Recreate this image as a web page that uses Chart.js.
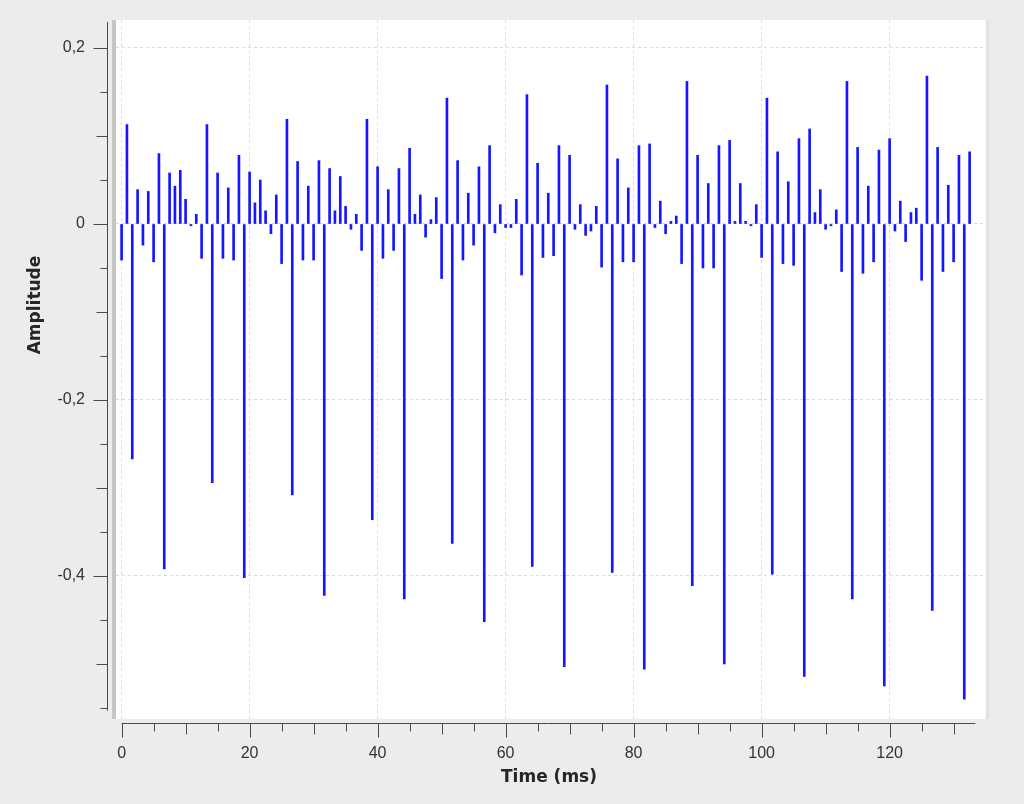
<!DOCTYPE html>
<html>
<head>
<meta charset="utf-8">
<script src="https://cdn.jsdelivr.net/npm/chart.js@4/dist/chart.umd.min.js"></script>
<style>
  html, body { margin: 0; padding: 0; background: #ececec; }
  #wrap { width: 1024px; height: 804px; }
</style>
</head>
<body>
<div id="wrap"><canvas id="chart" width="1024" height="804"></canvas></div>
<script>
// samples, one every 1/1200 s
const sampleRateHz = 1200;
const amplitude = [
  -0.041, 0.113, -0.267, 0.039, -0.024, 0.037, -0.043, 0.080, -0.392, 0.058,
  0.043, 0.061, 0.028, -0.002, 0.011, -0.039, 0.113, -0.294, 0.058, -0.039,
  0.041, -0.041, 0.078, -0.402, 0.059, 0.024, 0.050, 0.015, -0.011, 0.033,
  -0.045, 0.119, -0.308, 0.071, -0.041, 0.043, -0.041, 0.072, -0.422, 0.063,
  0.015, 0.054, 0.020, -0.006, 0.011, -0.030, 0.119, -0.336, 0.065, -0.039,
  0.039, -0.030, 0.063, -0.426, 0.086, 0.011, 0.033, -0.015, 0.005, 0.030,
  -0.062, 0.143, -0.363, 0.072, -0.041, 0.035, -0.024, 0.065, -0.452, 0.089,
  -0.010, 0.022, -0.004, -0.004, 0.028, -0.058, 0.147, -0.389, 0.069, -0.038,
  0.035, -0.036, 0.089, -0.503, 0.078, -0.006, 0.022, -0.013, -0.008, 0.020,
  -0.049, 0.158, -0.396, 0.074, -0.043, 0.041, -0.043, 0.089, -0.506, 0.091,
  -0.004, 0.026, -0.011, 0.003, 0.009, -0.045, 0.162, -0.411, 0.078, -0.050,
  0.046, -0.050, 0.089, -0.500, 0.095, 0.003, 0.046, 0.003, -0.002, 0.022,
  -0.038, 0.143, -0.398, 0.082, -0.045, 0.048, -0.047, 0.097, -0.514, 0.108,
  0.013, 0.039, -0.006, -0.002, 0.016, -0.054, 0.162, -0.426, 0.087, -0.056,
  0.043, -0.043, 0.084, -0.525, 0.097, -0.008, 0.026, -0.020, 0.013, 0.018,
  -0.064, 0.168, -0.439, 0.087, -0.054, 0.044, -0.043, 0.078, -0.540, 0.082
];

const xTickValues = [0, 20, 40, 60, 80, 100, 120];
const xTickLabels = ['0', '20', '40', '60', '80', '100', '120'];
const yTickValues = [0.2, 0, -0.2, -0.4];
const yTickLabels = ['0,2', '0', '-0,2', '-0,4'];
const xTitle = 'Time (ms)';
const yTitle = 'Amplitude';

const points = amplitude.map((v, i) => ({ x: i * 1000 / sampleRateHz, y: v }));

// axis decoration: detached axis lines with three tick lengths
const axesPlugin = {
  id: 'axes',
  beforeDraw(chart) {
    const { ctx, chartArea: a } = chart;
    ctx.save();
    ctx.fillStyle = '#ececec';
    ctx.fillRect(0, 0, chart.width, chart.height);
    ctx.fillStyle = '#ffffff';
    ctx.fillRect(a.left, a.top, a.right - a.left, a.bottom - a.top);
    ctx.fillStyle = '#c6c6c6';
    ctx.fillRect(a.left - 4, a.top, 4, a.bottom - a.top);
    ctx.fillStyle = '#e2e2e2';
    ctx.fillRect(a.right, a.top, 3, a.bottom - a.top);
    ctx.restore();
  },
  afterDraw(chart) {
    const { ctx } = chart;
    const xs = chart.scales.x, ys = chart.scales.y;
    ctx.save();
    ctx.strokeStyle = '#4a4a4a';
    ctx.lineWidth = 1;

    // y axis
    const ax = 107.5;
    ctx.beginPath();
    ctx.moveTo(ax, ys.getPixelForValue(0.2295));
    ctx.lineTo(ax, ys.getPixelForValue(-0.553));
    for (let k = -11; k <= 4; k++) {
      const py = Math.round(ys.getPixelForValue(k * 0.05)) + 0.5;
      const len = k % 4 === 0 ? 14 : (k % 2 === 0 ? 11 : 7);
      ctx.moveTo(ax, py);
      ctx.lineTo(ax - len, py);
    }
    ctx.stroke();

    // x axis
    const ay = 723.5;
    ctx.beginPath();
    ctx.moveTo(xs.getPixelForValue(0), ay);
    ctx.lineTo(xs.getPixelForValue(133.4), ay);
    for (let k = 0; k <= 26; k++) {
      const px = Math.round(xs.getPixelForValue(k * 5)) + 0.5;
      const len = k % 4 === 0 ? 14 : (k % 2 === 0 ? 11 : 8);
      ctx.moveTo(px, ay);
      ctx.lineTo(px, ay + len);
    }
    ctx.stroke();

    // titles
    ctx.fillStyle = '#262626';
    ctx.font = 'bold 17px "DejaVu Sans"';
    ctx.textAlign = 'center';
    ctx.textBaseline = 'middle';
    ctx.fillText(xTitle, 549, 778);
    ctx.translate(36, 305);
    ctx.rotate(-Math.PI / 2);
    ctx.fillText(yTitle, 0, 0);
    ctx.restore();
  }
};

function noEdgePadding(s) {
  s.paddingTop = 0;
  s.paddingBottom = 0;
  s.paddingLeft = 0;
  s.paddingRight = 0;
}

new Chart(document.getElementById('chart'), {
  type: 'bar',
  data: {
    datasets: [{
      data: points,
      backgroundColor: '#1616ff',
      borderWidth: 0,
      barThickness: 2,
    }]
  },
  options: {
    responsive: false,
    animation: false,
    layout: { padding: { top: 20, right: 38, bottom: 0, left: 0 } },
    plugins: { legend: { display: false }, tooltip: { enabled: false } },
    scales: {
      x: {
        type: 'linear',
        min: -0.875,
        max: 135.06,
        offset: false,
        afterBuildTicks: s => { s.ticks = xTickValues.map(v => ({ value: v })); },
        afterFit: s => { s.height = 85; noEdgePadding(s); },
        grid: { offset: false, color: '#dadada', lineWidth: 1, drawTicks: false },
        border: { display: false, dash: [3, 3] },
        ticks: {
          autoSkip: false,
          maxRotation: 0,
          padding: 25,
          color: '#333333',
          font: { family: '"Liberation Sans"', size: 16 },
          callback: v => xTickLabels[xTickValues.indexOf(v)]
        }
      },
      y: {
        min: -0.5625,
        max: 0.2318,
        afterBuildTicks: s => { s.ticks = yTickValues.map(v => ({ value: v })); },
        afterFit: s => { s.width = 116; noEdgePadding(s); },
        grid: { color: '#dadada', lineWidth: 1, drawTicks: false },
        border: { display: false, dash: [3, 3] },
        ticks: {
          padding: 31,
          color: '#333333',
          font: { family: '"Liberation Sans"', size: 16 },
          callback: v => yTickLabels[yTickValues.indexOf(v)]
        }
      }
    }
  },
  plugins: [axesPlugin]
});
</script>
</body>
</html>
